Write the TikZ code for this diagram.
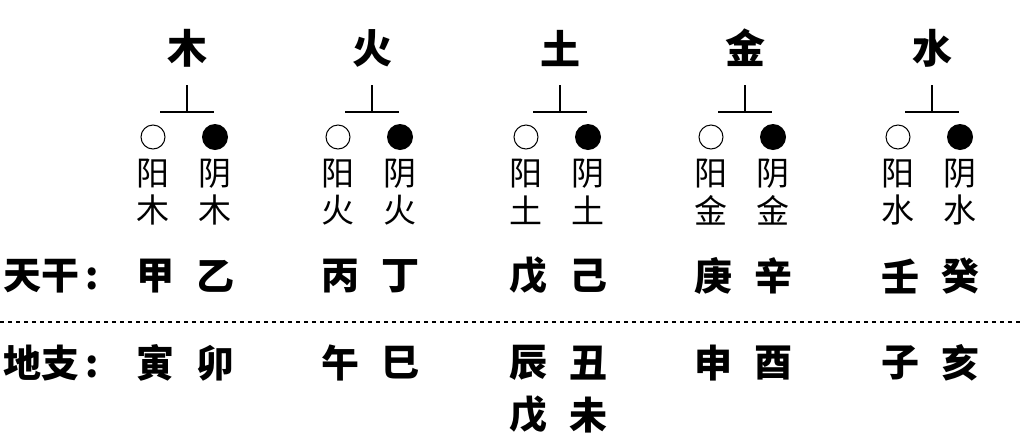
\documentclass[tikz,border=0pt]{standalone}
\usepackage{fontspec}
\newfontfamily\cjk{Noto Sans CJK SC}
\newfontfamily\cjkb{Noto Sans CJK SC Black}
\begin{document}
\begin{tikzpicture}[x=1pt,y=-1pt,
  head/.style={font=\cjkb\fontsize{40}{40}\selectfont,inner sep=0},
  sub/.style={font=\cjk\fontsize{33}{33}\selectfont,inner sep=0},
  big/.style={font=\cjkb\fontsize{38}{38}\selectfont,inner sep=0},
  tree/.style={line width=1.3pt},
  ring/.style={circle,draw,line width=1pt,minimum size=24pt,inner sep=0},
  dot/.style={circle,fill,minimum size=26pt,inner sep=0}]
\useasboundingbox (0,0) rectangle (1021,440);
\foreach \i/\x/\h/\s/\bA/\bB/\dA/\dB in {1/187/木/木/甲/乙/寅/卯, 2/372/火/火/丙/丁/午/巳, 3/560/土/土/戊/己/辰/丑, 4/745/金/金/庚/辛/申/酉, 5/932/水/水/壬/癸/子/亥}{
  \node[head] (h\i) at (\x,48) {\h};
  \coordinate (t\i) at (\x,85);
  \coordinate (m\i) at (\x,112);
  \coordinate (l\i) at (\x-27,112);
  \coordinate (r\i) at (\x+27,112);
  \draw[tree] (t\i) -- (m\i);
  \draw[tree] (l\i) -- (r\i);
  \node[ring] (o\i) at (\x-34,137) {};
  \node[dot] (d\i) at (\x+28,137) {};
  \node[sub] (ya\i) at (\x-34,174) {阳};
  \node[sub] (yi\i) at (\x+28,174) {阴};
  \node[sub] (ea\i) at (\x-34,210) {\s};
  \node[sub] (eb\i) at (\x+28,210) {\s};
  \node[big] (sa\i) at (\x-32,276) {\bA};
  \node[big] (sb\i) at (\x+28,276) {\bB};
  \node[big] (ba\i) at (\x-32,363) {\dA};
  \node[big] (bb\i) at (\x+28,363) {\dB};
}
\node[big,anchor=west] (tg) at (3,276) {天干\,:};
\node[big,anchor=west] (dz) at (3,363) {地支\,:};
\node[big] (ex1) at (528,415) {戊};
\node[big] (ex2) at (588,415) {未};
\coordinate (dl) at (0,322);
\coordinate (dr) at (1021,322);
\draw[line width=1.2pt,dash pattern=on 4pt off 4pt] (dl) -- (dr);
\end{tikzpicture}
\end{document}
